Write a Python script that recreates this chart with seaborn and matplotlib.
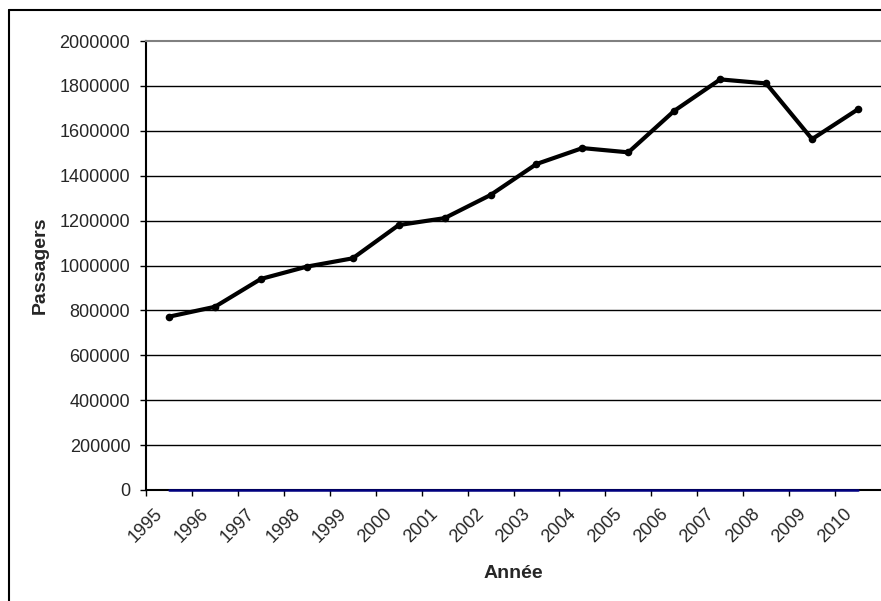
"""Recreate the Excel-style passenger line chart (1995-2010)."""

import matplotlib

matplotlib.use("Agg")
import matplotlib.pyplot as plt
import numpy as np
import pandas as pd
import seaborn as sns
from matplotlib.lines import Line2D

YEARS = ["1995", "1996", "1997", "1998", "1999", "2000", "2001", "2002",
         "2003", "2004", "2005", "2006", "2007", "2008", "2009", "2010"]
PASSAGERS = [772000, 816000, 940000, 995000, 1032000, 1180000, 1211000, 1314000,
             1452000, 1523000, 1504000, 1689000, 1829000, 1811000, 1563000, 1696000]
ZERO_SERIES = [0] * len(YEARS)
Y_TICKS = [0, 200000, 400000, 600000, 800000, 1000000, 1200000, 1400000,
           1600000, 1800000, 2000000]

W, H = 881, 601

sns.set_theme(style="white")
plt.rcParams["font.family"] = ["Liberation Sans", "DejaVu Sans"]

df = pd.DataFrame({
    "slot": np.arange(len(YEARS)) + 0.5,
    "Passagers": PASSAGERS,
    "zero": ZERO_SERIES,
})

fig = plt.figure(figsize=(W / 100, H / 100), dpi=100)
ax = fig.add_axes([146 / W, (H - 490) / H, (W - 146) / W, (490 - 41) / H])

for y in Y_TICKS[1:-1]:
    ax.axhline(y, color="black", linewidth=1, zorder=1)

sns.lineplot(data=df, x="slot", y="zero", ax=ax, color="#000080",
             linewidth=1.8, zorder=4, clip_on=False)
sns.lineplot(data=df, x="slot", y="Passagers", ax=ax, color="black",
             linewidth=3, marker="o", markersize=5.5, markeredgewidth=0,
             zorder=5)

ax.set_xlim(0, len(YEARS))
ax.set_ylim(0, 2000000)
ax.set_yticks(Y_TICKS)
ax.set_yticklabels([str(v) for v in Y_TICKS], fontsize=13)
ax.set_xticks(np.arange(len(YEARS)))
ax.set_xticklabels(YEARS, fontsize=13, rotation=45, ha="center", va="top")

ax.tick_params(axis="both", which="both", direction="out", length=4.3,
               width=1, color="black", left=True, bottom=True)
ax.tick_params(axis="y", pad=7)
ax.tick_params(axis="x", pad=7)

ax.spines["right"].set_visible(False)
ax.spines["top"].set_color("#808080")
ax.spines["top"].set_linewidth(1.5)
ax.spines["left"].set_color("black")
ax.spines["left"].set_linewidth(1.5)
ax.spines["bottom"].set_color("black")
ax.spines["bottom"].set_linewidth(1.5)

ax.set_xlabel("Année", fontsize=14, fontweight="bold")
ax.set_ylabel("Passagers", fontsize=14, fontweight="bold")
ax.yaxis.set_label_coords((40 - 146) / (W - 146), 0.5)
ax.xaxis.set_label_coords(0.5, (490 - 574) / (490 - 41))
ax.xaxis.label.set_va("center")
ax.yaxis.label.set_va("center")

# outer chart-area border (top and left edges visible)
fig.add_artist(Line2D([9 / W, 1.01], [(H - 10) / H, (H - 10) / H],
                      transform=fig.transFigure, color="black", linewidth=1.5))
fig.add_artist(Line2D([9 / W, 9 / W], [(H - 10) / H, -0.01],
                      transform=fig.transFigure, color="black", linewidth=1.5))

fig.savefig("out.png", dpi=100)
